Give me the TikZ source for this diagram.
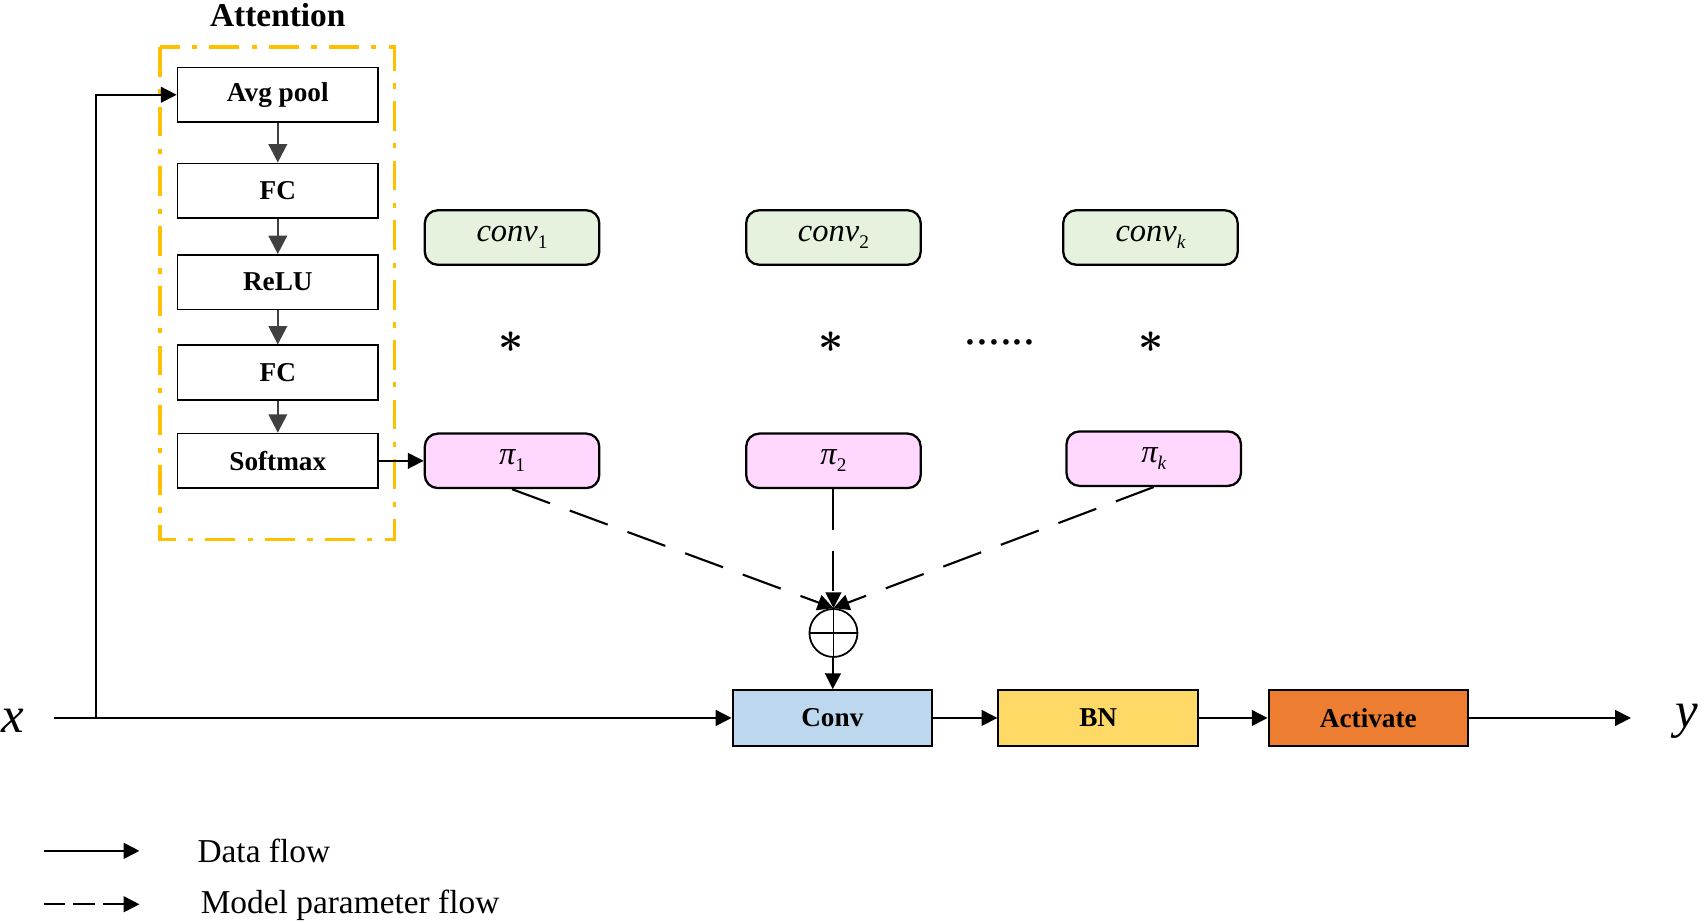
\documentclass[tikz,border=0pt]{standalone}
\usepackage{fontspec}
\setmainfont{Liberation Serif}
\usetikzlibrary{arrows.meta}

\definecolor{attnorange}{HTML}{FFC000}
\definecolor{kernelgreen}{HTML}{E6F2DE}
\definecolor{weightpink}{HTML}{FFD7FF}
\definecolor{convblue}{HTML}{BDD7EE}
\definecolor{bnyellow}{HTML}{FFD966}
\definecolor{actorange}{HTML}{ED7D31}

\newcommand{\lowsub}[1]{\raisebox{-0.45ex}{\fontsize{11}{11}\selectfont #1}}

\tikzset{
    attnbox/.style={draw, line width=1pt, minimum width=4.01cm, minimum height=1.09cm,
        font=\fontsize{15.5}{18}\selectfont\bfseries},
    kernel/.style={draw, line width=1.3pt, rounded corners=0.26cm, minimum width=3.49cm,
        minimum height=1.09cm, fill=kernelgreen, font=\fontsize{18.5}{20}\selectfont\itshape},
    weight/.style={kernel, fill=weightpink},
    stage/.style={draw, line width=1.2pt, minimum width=3.99cm, minimum height=1.11cm,
        font=\fontsize{15.5}{18}\selectfont\bfseries},
    dataflow/.style={-{Triangle[length=9pt,width=9pt]}, line width=1pt},
    paramflow/.style={dataflow, line width=1.2pt, dash pattern=on 23pt off 12pt},
    attnarrow/.style={-{Triangle[length=10.5pt,width=10.5pt]}, line width=1.4pt, draw=black!75, fill=black!75},
    conj/.style={font=\fontsize{34}{34}\selectfont\boldmath},
}

\begin{document}
\begin{tikzpicture}[x=0.02179cm, y=-0.02179cm]
    \useasboundingbox (0,0) rectangle (1565,846);
    % attention branch
    \node[font=\fontsize{19}{22}\selectfont\bfseries] (attn) at (255,14) {Attention};
    \draw[attnorange, line width=2pt, dash pattern=on 17pt off 7pt on 3pt off 7pt]
        (147,43) rectangle (362,495);
    \node[attnbox] (pool) at (255,87) {Avg pool};
    \node[attnbox] (fc1) at (255,175) {FC};
    \node[attnbox] (relu) at (255,259) {ReLU};
    \node[attnbox] (fc2) at (255,342) {FC};
    \node[attnbox] (soft) at (255,423) {Softmax};
    \foreach \a/\b in {pool/fc1, fc1/relu, relu/fc2, fc2/soft}
        \draw[attnarrow] (\a) -- (\b);
    % kernels
    \node[kernel] (k1) at (470,218) {conv\lowsub{\upshape 1}};
    \node[kernel] (k2) at (765,218) {conv\lowsub{\upshape 2}};
    \node[kernel] (kk) at (1056,218) {conv\lowsub{k}};
    \node[conj] (s1) at (469,314) {$\ast$};
    \node[conj] (s2) at (763,314) {$\ast$};
    \node[conj] (sk) at (1057,314) {$\ast$};
    \node[font=\fontsize{27}{27}\selectfont] (dots) at (918,314) {......};
    % attention weights
    \node[weight] (w1) at (470,423) {π\lowsub{\upshape 1}};
    \node[weight] (w2) at (765,423) {π\lowsub{\upshape 2}};
    \node[weight] (wk) at (1059,421) {π\lowsub{k}};
    \draw[dataflow] (soft) -- (w1);
    % weighted sum
    \node[draw, circle, line width=1pt, minimum size=0.96cm, inner sep=0pt,
        path picture={\draw[line width=1pt] (path picture bounding box.north) -- (path picture bounding box.south)
            (path picture bounding box.west) -- (path picture bounding box.east);}] (sum) at (765,581) {};
    \draw[paramflow] (w1.south) -- (sum.north);
    \draw[paramflow] (w2.south) -- (sum.north);
    \draw[paramflow] (wk.south) -- (sum.north);
    % main path
    \node[stage, fill=convblue] (conv) at (764,659) {Conv};
    \node[stage, fill=bnyellow] (bn) at (1008,659) {BN};
    \node[stage, fill=actorange] (act) at (1256,659) {Activate};
    \draw[dataflow] (sum) -- (conv);
    \node[font=\fontsize{29}{29}\selectfont\itshape] (xlab) at (12,662) {x};
    \node[font=\fontsize{29}{29}\selectfont\itshape] (ylab) at (1548,662) {y};
    \coordinate (xin) at (50,659);
    \coordinate (tap) at (88,659);
    \coordinate (yout) at (1497,659);
    \draw[dataflow] (xin) -- (conv);
    \draw[dataflow] (tap) |- (pool.west);
    \draw[dataflow] (conv) -- (bn);
    \draw[dataflow] (bn) -- (act);
    \draw[dataflow] (act) -- (yout);
    % legend
    \coordinate (la1) at (40,781);
    \coordinate (lb1) at (128,781);
    \coordinate (la2) at (40,830);
    \coordinate (lb2) at (128,830);
    \draw[dataflow] (la1) -- (lb1);
    \draw[dataflow, dash pattern=on 12pt off 5pt] (la2) -- (lb2);
    \node[anchor=west, inner sep=0pt, font=\fontsize{19}{22}\selectfont] (ldata) at (181,781) {Data flow};
    \node[anchor=west, inner sep=0pt, font=\fontsize{19}{22}\selectfont] (lparam) at (184,831) {Model parameter flow};
\end{tikzpicture}
\end{document}
